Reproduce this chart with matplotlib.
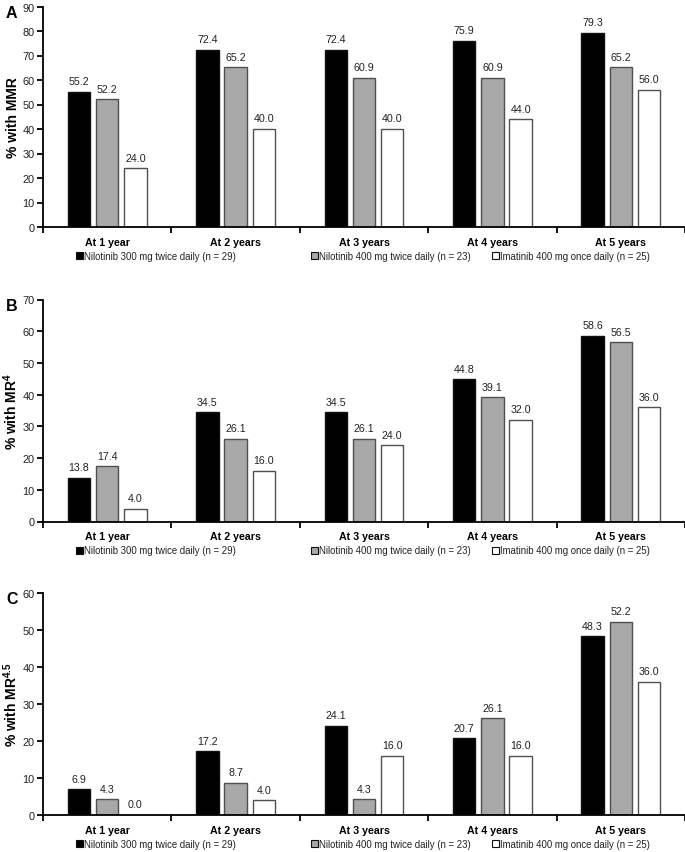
import matplotlib
matplotlib.use('Agg')
import matplotlib.pyplot as plt
from matplotlib.patches import Patch
from matplotlib.legend import Legend
from matplotlib import font_manager
import numpy as np

# pick a narrow sans if present (the reference text is condensed)
names = {f.name for f in font_manager.fontManager.ttflist}
NARROW = 'Liberation Sans Narrow' if 'Liberation Sans Narrow' in names else 'Liberation Sans'
WIDE = 'Liberation Sans'

plt.rcParams['font.family'] = [NARROW, 'DejaVu Sans']
plt.rcParams['mathtext.fontset'] = 'custom'
plt.rcParams['mathtext.rm'] = WIDE + ':bold'
plt.rcParams['mathtext.bf'] = WIDE + ':bold'

categories = ['At 1 year', 'At 2 years', 'At 3 years', 'At 4 years', 'At 5 years']
series_names = ['Nilotinib 300 mg twice daily (n = 29)',
                'Nilotinib 400 mg twice daily (n = 23)',
                'Imatinib 400 mg once daily (n = 25)']

# panel A: MMR
mmr_nil300 = [55.2, 72.4, 72.4, 75.9, 79.3]
mmr_nil400 = [52.2, 65.2, 60.9, 60.9, 65.2]
mmr_ima400 = [24.0, 40.0, 40.0, 44.0, 56.0]

# panel B: MR4
mr4_nil300 = [13.8, 34.5, 34.5, 44.8, 58.6]
mr4_nil400 = [17.4, 26.1, 26.1, 39.1, 56.5]
mr4_ima400 = [4.0, 16.0, 24.0, 32.0, 36.0]

# panel C: MR4.5
mr45_nil300 = [6.9, 17.2, 24.1, 20.7, 48.3]
mr45_nil400 = [4.3, 8.7, 4.3, 26.1, 52.2]
mr45_ima400 = [0.0, 4.0, 16.0, 16.0, 36.0]

panels = [
    ('A', '% with MMR', 90, [mmr_nil300, mmr_nil400, mmr_ima400]),
    ('B', '% with MR$^\\mathbf{4}$', 70, [mr4_nil300, mr4_nil400, mr4_ima400]),
    ('C', '% with MR$^\\mathbf{4.5}$', 60, [mr45_nil300, mr45_nil400, mr45_ima400]),
]

fills = ['#000000', '#a8a8a8', '#ffffff']
edges = ['#111111', '#505050', '#505050']
offsets = [-0.22, 0.0, 0.22]
width = 0.175

W, H = 685, 853
fig = plt.figure(figsize=(W / 100, H / 100), dpi=100)

# axes boxes in pixels: (top, bottom)
boxes = [(7.5, 228), (300.5, 522.5), (594, 816)]
left_px, right_px = 43, 685
legend_x = [76, 311, 492]

x = np.arange(len(categories))

for (letter, ylab, ymax, data), (top, bot) in zip(panels, boxes):
    ax = fig.add_axes([left_px / W, (H - bot) / H,
                       (right_px - left_px) / W, (bot - top) / H])

    for vals, off, fc, ec in zip(data, offsets, fills, edges):
        ax.bar(x + off, vals, width, color=fc, edgecolor=ec, linewidth=1.0)
        for xi, v in zip(x, vals):
            ax.annotate(f'{v:.1f}', (xi + off, v), xytext=(0, 4),
                        textcoords='offset points', ha='center', va='bottom',
                        fontsize=7.7, color='#222222')

    ax.set_xlim(-0.5, len(categories) - 0.5)
    ax.set_ylim(0, ymax)
    ax.set_yticks(np.arange(0, ymax + 1, 10))
    ax.set_xticks(x)
    ax.set_xticklabels(categories, fontsize=7.7, fontweight='bold')
    ax.set_xticks(np.arange(-0.5, len(categories)), minor=True)
    ax.tick_params(axis='x', which='major', length=0, pad=7)
    ax.tick_params(axis='x', which='minor', length=4, width=1.3, direction='out')
    ax.tick_params(axis='y', length=4, width=1.3, labelsize=7.9,
                   labelcolor='#222222', pad=2)

    for s in ['top', 'right']:
        ax.spines[s].set_visible(False)
    for s in ['left', 'bottom']:
        ax.spines[s].set_linewidth(1.3)

    ax.set_ylabel(ylab, fontsize=10, fontweight='bold', family=WIDE)
    ax.yaxis.set_label_coords(-(left_px - 20) / (right_px - left_px), 0.5)
    ax.text(6 / W, (H - top - 6) / H, letter, transform=fig.transFigure,
            fontsize=11.5, fontweight='bold', family=WIDE,
            va='center', ha='left')

    # legend entries sit at fixed spots under the axis
    for name, fc, lx in zip(series_names, fills, legend_x):
        handle = Patch(facecolor=fc, edgecolor='#111111', linewidth=0.8)
        leg = Legend(ax, [handle], [name], loc='center left',
                     bbox_to_anchor=((lx - left_px) / (right_px - left_px),
                                     -29 / (bot - top)),
                     frameon=False, fontsize=6.9, handlelength=0.7,
                     handleheight=0.7, handletextpad=0.15, borderpad=0,
                     borderaxespad=0)
        for t in leg.get_texts():
            t.set_color('#222222')
        ax.add_artist(leg)

fig.savefig('out.png', dpi=100)
